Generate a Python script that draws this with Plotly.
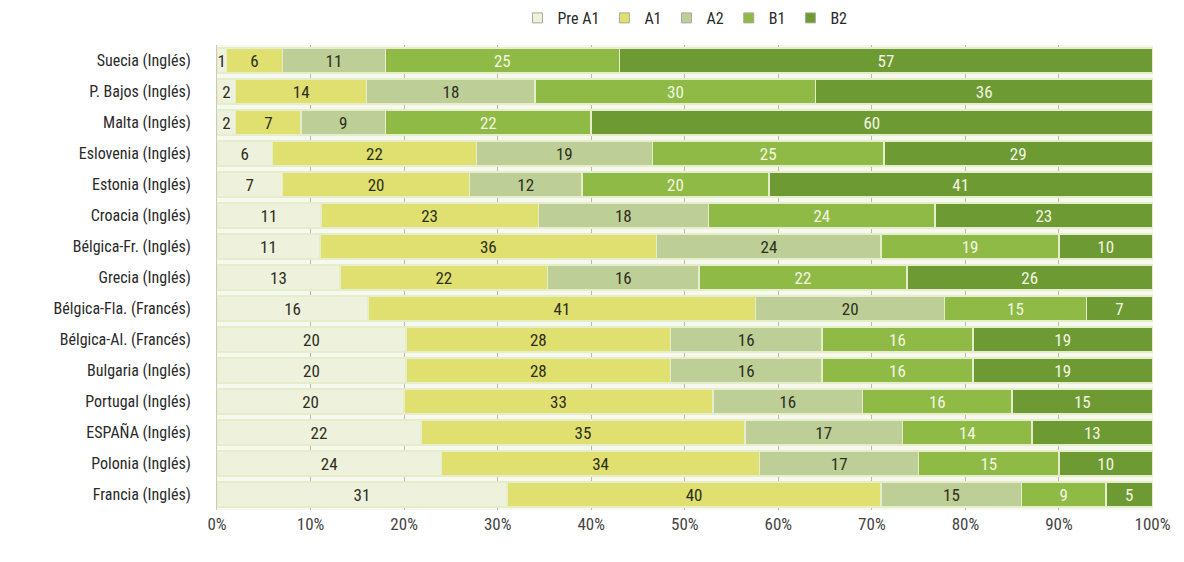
import plotly.graph_objects as go

countries = [
    "Suecia (Inglés)", "P. Bajos (Inglés)", "Malta (Inglés)", "Eslovenia (Inglés)",
    "Estonia (Inglés)", "Croacia (Inglés)", "Bélgica-Fr. (Inglés)", "Grecia (Inglés)",
    "Bélgica-Fla. (Francés)", "Bélgica-Al. (Francés)", "Bulgaria (Inglés)",
    "Portugal (Inglés)", "ESPAÑA (Inglés)", "Polonia (Inglés)", "Francia (Inglés)",
]
pre_a1 = [1, 2, 2, 6, 7, 11, 11, 13, 16, 20, 20, 20, 22, 24, 31]
a1 = [6, 14, 7, 22, 20, 23, 36, 22, 41, 28, 28, 33, 35, 34, 40]
a2 = [11, 18, 9, 19, 12, 18, 24, 16, 20, 16, 16, 16, 17, 17, 15]
b1 = [25, 30, 22, 25, 20, 24, 19, 22, 15, 16, 16, 16, 14, 15, 9]
b2 = [57, 36, 60, 29, 41, 23, 10, 26, 7, 19, 19, 15, 13, 10, 5]

levels = ["Pre A1", "A1", "A2", "B1", "B2"]
series = [pre_a1, a1, a2, b1, b2]
colors = ["#eef2dc", "#dfe070", "#bdcf97", "#8fba45", "#6d9a33"]
text_colors = ["#2e2e1c", "#2e2e1c", "#2e2e1c", "#f2f6e2", "#f2f6e2"]
tick_labels = ["0%", "10%", "20%", "30%", "40%", "50%", "60%", "70%", "80%", "90%", "100%"]

font_family = "Liberation Sans Narrow, Roboto Condensed, Arial Narrow, Liberation Sans, sans-serif"

fig = go.Figure()
for name, vals, col, tcol in zip(levels, series, colors, text_colors):
    fig.add_trace(go.Bar(
        y=countries,
        x=vals,
        name=name,
        orientation="h",
        marker=dict(color=col, line=dict(color="#e6edca", width=1.5)),
        text=vals,
        texttemplate="%{text}",
        textposition="inside",
        insidetextanchor="middle",
        textangle=0,
        insidetextfont=dict(color=tcol, size=17, family=font_family),
        constraintext="none",
        cliponaxis=False,
        showlegend=False,
    ))

# compact square swatches for the legend
for name, col in zip(levels, colors):
    fig.add_trace(go.Scatter(
        x=[None], y=[None],
        mode="markers",
        name=name,
        marker=dict(symbol="square", size=10, color=col,
                    line=dict(color="#a8ab98", width=1)),
        showlegend=True,
    ))

fig.update_layout(
    width=1184,
    height=562,
    barmode="stack",
    barnorm="percent",
    bargap=0.18,
    plot_bgcolor="#f7f9ee",
    paper_bgcolor="white",
    margin=dict(l=217, r=31, t=45, b=52, autoexpand=False),
    font=dict(family=font_family, color="#333333", size=16),
    legend=dict(
        orientation="h",
        x=0.5, xanchor="center",
        yref="container",
        y=0.968, yanchor="middle",
        font=dict(size=16, color="#2a2a2a"),
        itemwidth=30,
        traceorder="normal",
        bgcolor="rgba(0,0,0,0)",
    ),
    uniformtext=dict(minsize=8, mode="show"),
)
fig.update_xaxes(
    range=[0, 100.05],
    tickvals=[0, 10, 20, 30, 40, 50, 60, 70, 80, 90, 100],
    ticktext=tick_labels,
    showgrid=True,
    gridcolor="#b8bba8",
    gridwidth=1,
    zeroline=False,
    ticklabelstandoff=2,
    tickfont=dict(size=17, color="#444444"),
)
fig.update_yaxes(
    autorange="reversed",
    ticklabelstandoff=22,
    tickfont=dict(size=16, color="#2a2a2a"),
    showline=True,
    linecolor="#c8ccb8",
)

fig.write_html("out.html")
